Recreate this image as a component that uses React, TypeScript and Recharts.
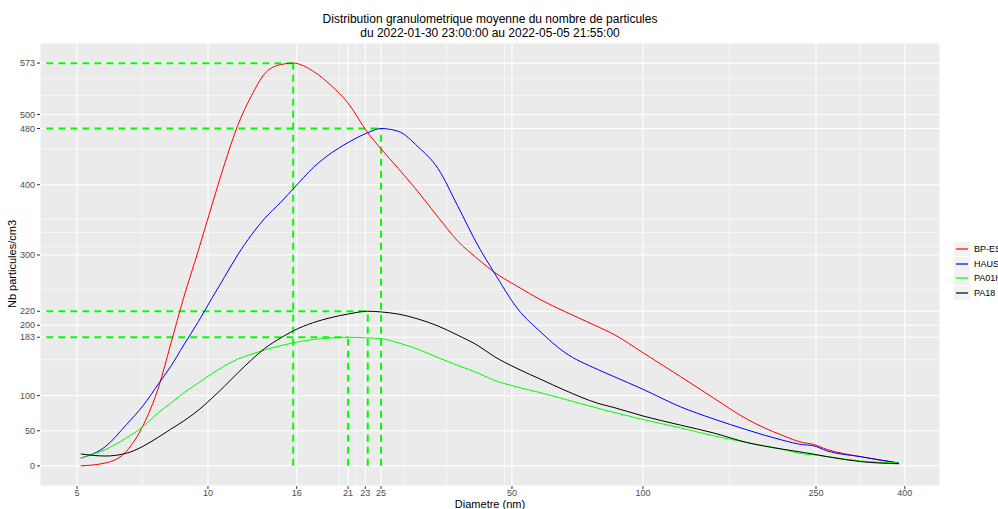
import { CartesianGrid, Line, LineChart, ReferenceLine, XAxis, YAxis } from 'recharts'

// particle diameter (nm), log axis
const diameters = [
  5.1, 5.8, 6.5, 7.1, 7.7, 8.2, 8.8, 9.5, 10.2, 10.9, 11.7, 12.6, 13.5, 14.7, 15.7, 17.5, 19.2, 21, 23.3, 25,
  27.4, 30.4, 33.8, 37.5, 41.8, 45.4, 51.6, 58.3, 65.9, 78.8, 85.8, 100, 122, 145, 174, 208, 234, 245, 266, 317,
  388,
]

const bpEst = [
  0, 4, 21, 58, 112, 172, 240, 306, 370, 428, 484, 527, 558, 571, 573, 561, 541, 516, 474, 451,
  423, 390, 354, 320, 294, 276, 255, 236, 220, 198, 187, 161, 127, 97, 66, 44, 33, 31, 23, 13,
  4,
]
const haussmann = [
  11, 27, 59, 86, 117, 141, 172, 205, 238, 268, 300, 329, 352, 375, 394, 425, 445, 460, 474, 480,
  476, 454, 423, 370, 313, 276, 223, 190, 162, 137, 127, 109, 84, 67, 51, 37, 30, 29, 21, 13,
  4,
]
const pa01h = [
  11, 23, 40, 56, 76, 89, 104, 118, 131, 142, 152, 159, 165, 171, 175, 180, 182, 183, 182, 181,
  175, 166, 154, 143, 132, 122, 112, 104, 95, 82, 76, 66, 54, 43, 33, 24, 17, 16, 13, 7,
  4,
]
const pa18 = [
  17, 14, 18, 28, 41, 52, 64, 79, 96, 113, 132, 151, 167, 182, 192, 204, 211, 216, 220, 219,
  216, 209, 199, 186, 171, 156, 138, 123, 108, 89, 83, 71, 58, 47, 33, 24, 19, 17, 13, 6,
  3,
]

const seriesKeys = ['bpEst', 'haussmann', 'pa01h', 'pa18']
const seriesNames = ['BP-EST', 'HAUSSMANN', 'PA01H', 'PA18']
const seriesColors = ['#FF0000', '#0000FF', '#00FF00', '#000000']

const xTicks = [5, 10, 16, 21, 23, 25, 50, 100, 250, 400]
const yTicks = [0, 50, 100, 183, 200, 220, 300, 400, 480, 500, 573]
const xMinor = [7.07, 20, 21.98, 28.3, 35.4, 48.1, 158, 316]
const yMinor = [151, 251, 312, 332, 351, 451, 527, 551]

// maxima of each station, marked with dashed guides
const peakDiameters = [15.7, 25, 23.3, 21]
const peakValues = [573, 480, 220, 183]

const data = diameters.map((d, i) => ({
  d,
  bpEst: bpEst[i],
  haussmann: haussmann[i],
  pa01h: pa01h[i],
  pa18: pa18[i],
}))

const font = '"Liberation Sans", Arial, sans-serif'
const tickStyle = { fontSize: 9, fill: '#4D4D4D', fontFamily: font }

export default function App() {
  return (
    <div
      style={{
        position: 'absolute',
        left: 0,
        top: 0,
        width: 998,
        height: 509,
        overflow: 'hidden',
        background: '#fff',
        fontFamily: font,
      }}
    >
      <div
        style={{
          position: 'absolute',
          left: 40,
          width: 900,
          top: 12,
          textAlign: 'center',
          fontSize: 12,
          lineHeight: '14px',
          color: '#000',
        }}
      >
        Distribution granulometrique moyenne du nombre de particules
        <br />
        du 2022-01-30 23:00:00 au 2022-05-05 21:55:00
      </div>

      <div
        style={{
          position: 'absolute',
          left: 12,
          top: 264,
          transform: 'translate(-50%, -50%) rotate(-90deg)',
          fontSize: 11,
          whiteSpace: 'nowrap',
          color: '#000',
        }}
      >
        Nb particules/cm3
      </div>

      <LineChart width={998} height={509} data={data} margin={{ top: 43, right: 58, bottom: 0, left: 0 }}>
        <CartesianGrid
          fill="#EBEBEB"
          stroke="#FFFFFF"
          strokeWidth={0.6}
          horizontalValues={yMinor}
          verticalValues={xMinor}
        />
        <CartesianGrid stroke="#FFFFFF" strokeWidth={1.1} />
        <XAxis
          dataKey="d"
          type="number"
          scale="log"
          domain={[4.11, 482]}
          allowDataOverflow
          ticks={xTicks}
          interval={0}
          height={23}
          axisLine={false}
          tickSize={3}
          tickMargin={1}
          tickLine={{ stroke: '#333333' }}
          tick={tickStyle}
          label={{ value: 'Diametre (nm)', position: 'insideBottom', offset: 1, fontSize: 11, fill: '#000', fontFamily: font }}
        />
        <YAxis
          type="number"
          domain={[-28.65, 601.65]}
          allowDataOverflow
          ticks={yTicks}
          interval={0}
          width={40}
          axisLine={false}
          tickSize={3}
          tickMargin={2}
          tickLine={{ stroke: '#333333' }}
          tick={tickStyle}
        />
        {peakDiameters.map((d, i) => (
          <ReferenceLine
            key={`h${i}`}
            segment={[
              { x: 4.25, y: peakValues[i] },
              { x: d, y: peakValues[i] },
            ]}
            stroke="#00FF00"
            strokeWidth={2}
            strokeDasharray="7 5"
          />
        ))}
        {peakDiameters.map((d, i) => (
          <ReferenceLine
            key={`v${i}`}
            segment={[
              { x: d, y: 0 },
              { x: d, y: peakValues[i] },
            ]}
            stroke="#00FF00"
            strokeWidth={2}
            strokeDasharray="7 5"
          />
        ))}
        {seriesKeys.map((k, i) => (
          <Line
            key={k}
            dataKey={k}
            name={seriesNames[i]}
            type="monotone"
            stroke={seriesColors[i]}
            strokeWidth={1}
            dot={false}
            activeDot={false}
            isAnimationActive={false}
          />
        ))}
      </LineChart>

      <div style={{ position: 'absolute', left: 954, top: 242, fontSize: 9, color: '#000' }}>
        {seriesNames.map((name, i) => (
          <div key={name} style={{ display: 'flex', alignItems: 'center', height: 14.5, whiteSpace: 'nowrap' }}>
            <svg width={16} height={14} style={{ background: '#F2F2F2', display: 'block' }}>
              <line x1={2} x2={14} y1={7} y2={7} stroke={seriesColors[i]} strokeWidth={1.2} />
            </svg>
            <span style={{ marginLeft: 4 }}>{name}</span>
          </div>
        ))}
      </div>
    </div>
  )
}
